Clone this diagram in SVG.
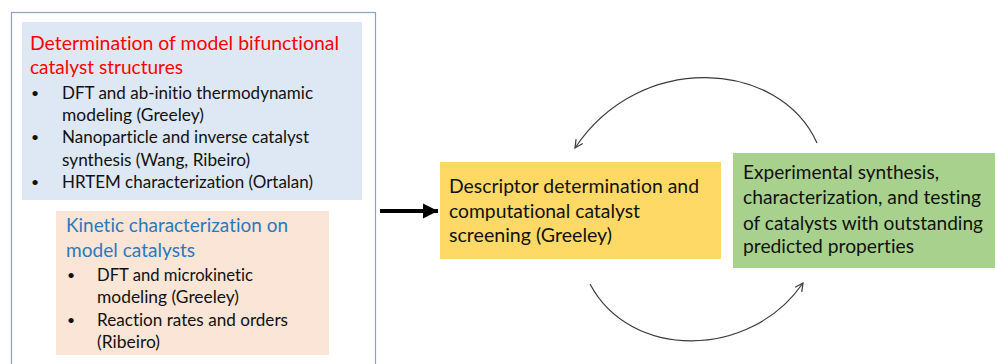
<svg xmlns="http://www.w3.org/2000/svg" width="995" height="364" viewBox="0 0 995 364">
<style>
text{font-family:Lato,"Liberation Sans",sans-serif;fill:#111;font-variant-ligatures:none;}
.t{font-size:19.5px;}
.b{font-size:17.5px;}
.dot{font-size:14px;}
.red{fill:#ff0000;}
.blu{fill:#2a78c2;}
.arc{fill:none;stroke:#3a3a3a;stroke-width:1.2;}
</style>
<defs>
<marker id="open" markerUnits="userSpaceOnUse" markerWidth="12" markerHeight="12" refX="9" refY="5" orient="auto" viewBox="0 0 12 10">
<path d="M1,1 L9,5 L1,9" fill="none" stroke="#3a3a3a" stroke-width="1.2"/>
</marker>
<marker id="solid" markerUnits="userSpaceOnUse" markerWidth="16" markerHeight="16" refX="15" refY="7.5" orient="auto" viewBox="0 0 16 15">
<path d="M0,0 L15,7.5 L0,15 Z" fill="#000"/>
</marker>
</defs>
<g id="outer">
<rect x="11.5" y="12.5" width="364" height="370" fill="#fff" stroke="#8ea4bd" stroke-width="1.2"/>
</g>
<g id="structures">
<rect x="22" y="22" width="340" height="178" fill="#dee8f4"/>
<text class="t red" x="30" y="50" textLength="309" lengthAdjust="spacingAndGlyphs">Determination of model bifunctional</text>
<text class="t red" x="30" y="74" textLength="153" lengthAdjust="spacingAndGlyphs">catalyst structures</text>
<text class="dot" x="31" y="98">•</text>
<text class="b" x="62" y="99" textLength="251" lengthAdjust="spacingAndGlyphs">DFT and ab-initio thermodynamic</text>
<text class="b" x="62" y="121" textLength="142" lengthAdjust="spacingAndGlyphs">modeling (Greeley)</text>
<text class="dot" x="31" y="142">•</text>
<text class="b" x="62" y="143" textLength="247" lengthAdjust="spacingAndGlyphs">Nanoparticle and inverse catalyst</text>
<text class="b" x="62" y="166" textLength="188" lengthAdjust="spacingAndGlyphs">synthesis (Wang, Ribeiro)</text>
<text class="dot" x="31" y="187">•</text>
<text class="b" x="62" y="188" textLength="251" lengthAdjust="spacingAndGlyphs">HRTEM characterization (Ortalan)</text>
</g>
<g id="kinetic">
<rect x="56" y="211" width="273" height="144" fill="#fbe5d6"/>
<text class="t blu" x="66" y="232" textLength="222" lengthAdjust="spacingAndGlyphs">Kinetic characterization on</text>
<text class="t blu" x="66" y="257" textLength="129" lengthAdjust="spacingAndGlyphs">model catalysts</text>
<text class="dot" x="67" y="280">•</text>
<text class="b" x="97" y="281" textLength="156" lengthAdjust="spacingAndGlyphs">DFT and microkinetic</text>
<text class="b" x="97" y="303" textLength="142" lengthAdjust="spacingAndGlyphs">modeling (Greeley)</text>
<text class="dot" x="67" y="325">•</text>
<text class="b" x="97" y="326" textLength="191" lengthAdjust="spacingAndGlyphs">Reaction rates and orders</text>
<text class="b" x="97" y="348" textLength="63" lengthAdjust="spacingAndGlyphs">(Ribeiro)</text>
</g>
<g id="descriptor">
<rect x="440" y="162" width="281" height="97" fill="#ffd966"/>
<text class="t" x="449" y="193" textLength="250" lengthAdjust="spacingAndGlyphs">Descriptor determination and</text>
<text class="t" x="449" y="218" textLength="191" lengthAdjust="spacingAndGlyphs">computational catalyst</text>
<text class="t" x="449" y="242" textLength="163" lengthAdjust="spacingAndGlyphs">screening (Greeley)</text>
</g>
<g id="experimental">
<rect x="733" y="153" width="262" height="115" fill="#a9d18e"/>
<text class="t" x="743" y="179" textLength="196" lengthAdjust="spacingAndGlyphs">Experimental synthesis,</text>
<text class="t" x="743" y="204" textLength="238" lengthAdjust="spacingAndGlyphs">characterization, and testing</text>
<text class="t" x="743" y="230" textLength="240" lengthAdjust="spacingAndGlyphs">of catalysts with outstanding</text>
<text class="t" x="743" y="253" textLength="171" lengthAdjust="spacingAndGlyphs">predicted properties</text>
</g>
<g id="connectors">
<path d="M380,211 L438,211" stroke="#000" stroke-width="4" fill="none" marker-end="url(#solid)"/>
<path class="arc" d="M817,143 C780,60 640,50 575,148" marker-end="url(#open)"/>
<path class="arc" d="M590,284 C630,360 750,360 803,283" marker-end="url(#open)"/>
</g>
</svg>
